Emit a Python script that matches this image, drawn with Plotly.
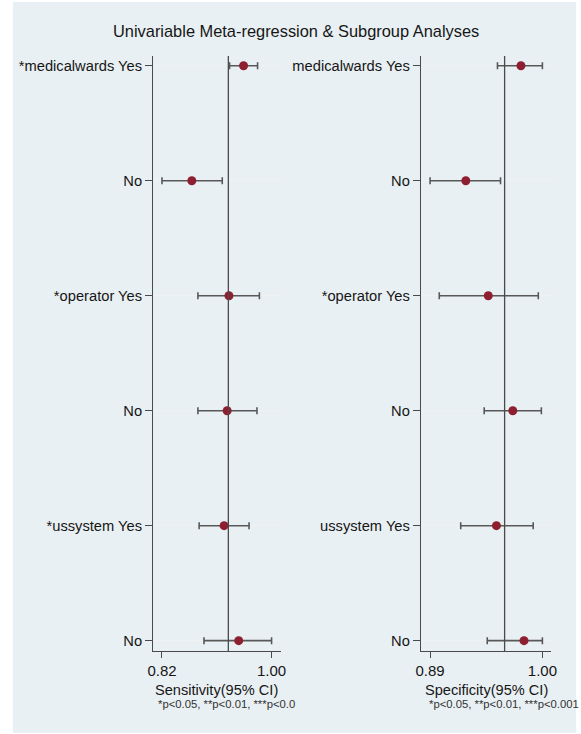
import plotly.graph_objects as go
from plotly.subplots import make_subplots

# Subgroup rows, top to bottom
row_labels_sens = ["*medicalwards Yes", "No", "*operator Yes", "No", "*ussystem Yes", "No"]
row_labels_spec = ["medicalwards Yes", "No", "*operator Yes", "No", "ussystem Yes", "No"]

# Sensitivity estimates and 95% CI
sens_est = [0.954, 0.869, 0.930, 0.927, 0.922, 0.946]
sens_lo = [0.931, 0.820, 0.879, 0.879, 0.881, 0.889]
sens_hi = [0.977, 0.919, 0.980, 0.976, 0.963, 1.000]
sens_ref = 0.929

# Specificity estimates and 95% CI
spec_est = [0.979, 0.925, 0.947, 0.971, 0.955, 0.982]
spec_lo = [0.956, 0.890, 0.899, 0.943, 0.920, 0.946]
spec_hi = [1.000, 0.959, 0.996, 0.999, 0.991, 1.000]
spec_ref = 0.963

sens_ticks = [0.82, 1.00]
sens_ticktext = ["0.82", "1.00"]
spec_ticks = [0.89, 1.00]
spec_ticktext = ["0.89", "1.00"]

W, H = 581, 734
BG = "#E9F0F3"
MARK = "#8E1F30"
BAR = "#585858"
AXC = "#4A4A4A"
TXT = "#161616"
FONT = "Liberation Sans, Arial, sans-serif"

ypos = [5 - i for i in range(len(row_labels_sens))]

fig = make_subplots(rows=1, cols=2)


def add_panel(col, est, lo, hi):
    fig.add_trace(
        go.Scatter(
            x=est,
            y=ypos,
            mode="markers",
            marker=dict(color=MARK, size=9),
            error_x=dict(
                type="data",
                symmetric=False,
                array=[h - e for h, e in zip(hi, est)],
                arrayminus=[e - l for e, l in zip(est, lo)],
                color=BAR,
                thickness=1.6,
                width=3.5,
            ),
            showlegend=False,
            hoverinfo="skip",
        ),
        row=1,
        col=col,
    )


add_panel(1, sens_est, sens_lo, sens_hi)
add_panel(2, spec_est, spec_lo, spec_hi)

y_dom = [1 - 651 / H, 1 - 56 / H]
x1_dom = [150 / W, 280 / W]
x2_dom = [423 / W, 556 / W]

common_x = dict(
    showgrid=False,
    zeroline=False,
    showline=True,
    linecolor=AXC,
    linewidth=1.3,
    ticks="outside",
    ticklen=6,
    tickwidth=1.3,
    tickcolor=AXC,
    tickfont=dict(family=FONT, size=15, color=TXT),
    ticklabelstandoff=0,
)
common_y = dict(
    range=[-0.09, 5.085],
    showgrid=True,
    gridcolor="#EEF2F3",
    gridwidth=1,
    zeroline=False,
    showline=True,
    linecolor=AXC,
    linewidth=1.3,
    ticks="outside",
    ticklen=7,
    tickwidth=1.3,
    tickcolor=AXC,
    tickvals=ypos,
    tickfont=dict(family=FONT, size=14.7, color=TXT),
)

fig.update_xaxes(
    domain=x1_dom, range=[0.8055, 1.015], tickvals=sens_ticks, ticktext=sens_ticktext,
    row=1, col=1, **common_x
)
fig.update_xaxes(
    domain=x2_dom, range=[0.8811, 1.0089], tickvals=spec_ticks, ticktext=spec_ticktext,
    row=1, col=2, **common_x
)
fig.update_yaxes(domain=y_dom, ticktext=row_labels_sens, row=1, col=1, **common_y)
fig.update_yaxes(domain=y_dom, ticktext=row_labels_spec, row=1, col=2, **common_y)

# Overall pooled reference lines
fig.add_vline(x=sens_ref, line=dict(color=AXC, width=1.3), row=1, col=1)
fig.add_vline(x=spec_ref, line=dict(color=AXC, width=1.3), row=1, col=2)

# Light graph region with a thin white margin at the left
fig.add_shape(
    type="rect", xref="paper", yref="paper",
    x0=7 / W, x1=1, y0=1 / H, y1=1 - 2 / H,
    fillcolor=BG, line=dict(width=0), layer="below",
)

annotations = [
    dict(
        text="Univariable Meta-regression & Subgroup Analyses",
        x=296 / W, y=1 - 31 / H, xanchor="center", yanchor="middle",
        font=dict(family=FONT, size=16.4, color=TXT),
    ),
    dict(
        text="Sensitivity(95% CI)",
        x=215 / W, y=1 - 690 / H, xanchor="center", yanchor="middle",
        font=dict(family=FONT, size=14.6, color=TXT),
    ),
    dict(
        text="Specificity(95% CI)",
        x=490 / W, y=1 - 690 / H, xanchor="center", yanchor="middle",
        font=dict(family=FONT, size=14.6, color=TXT),
    ),
    dict(
        text="*p<0.05, **p<0.01, ***p<0.0",
        x=153 / W, y=1 - 704 / H, xanchor="left", yanchor="middle",
        font=dict(family=FONT, size=11.3, color="#333"),
    ),
    dict(
        text="*p<0.05, **p<0.01, ***p<0.001",
        x=429 / W, y=1 - 704 / H, xanchor="left", yanchor="middle",
        font=dict(family=FONT, size=11.3, color="#333"),
    ),
]
for a in annotations:
    a.update(xref="paper", yref="paper", showarrow=False)

fig.update_layout(
    width=W,
    height=H,
    margin=dict(l=0, r=0, t=0, b=0),
    paper_bgcolor="white",
    plot_bgcolor="white",
    annotations=annotations,
    font=dict(family=FONT),
)

fig.write_html("out.html")
